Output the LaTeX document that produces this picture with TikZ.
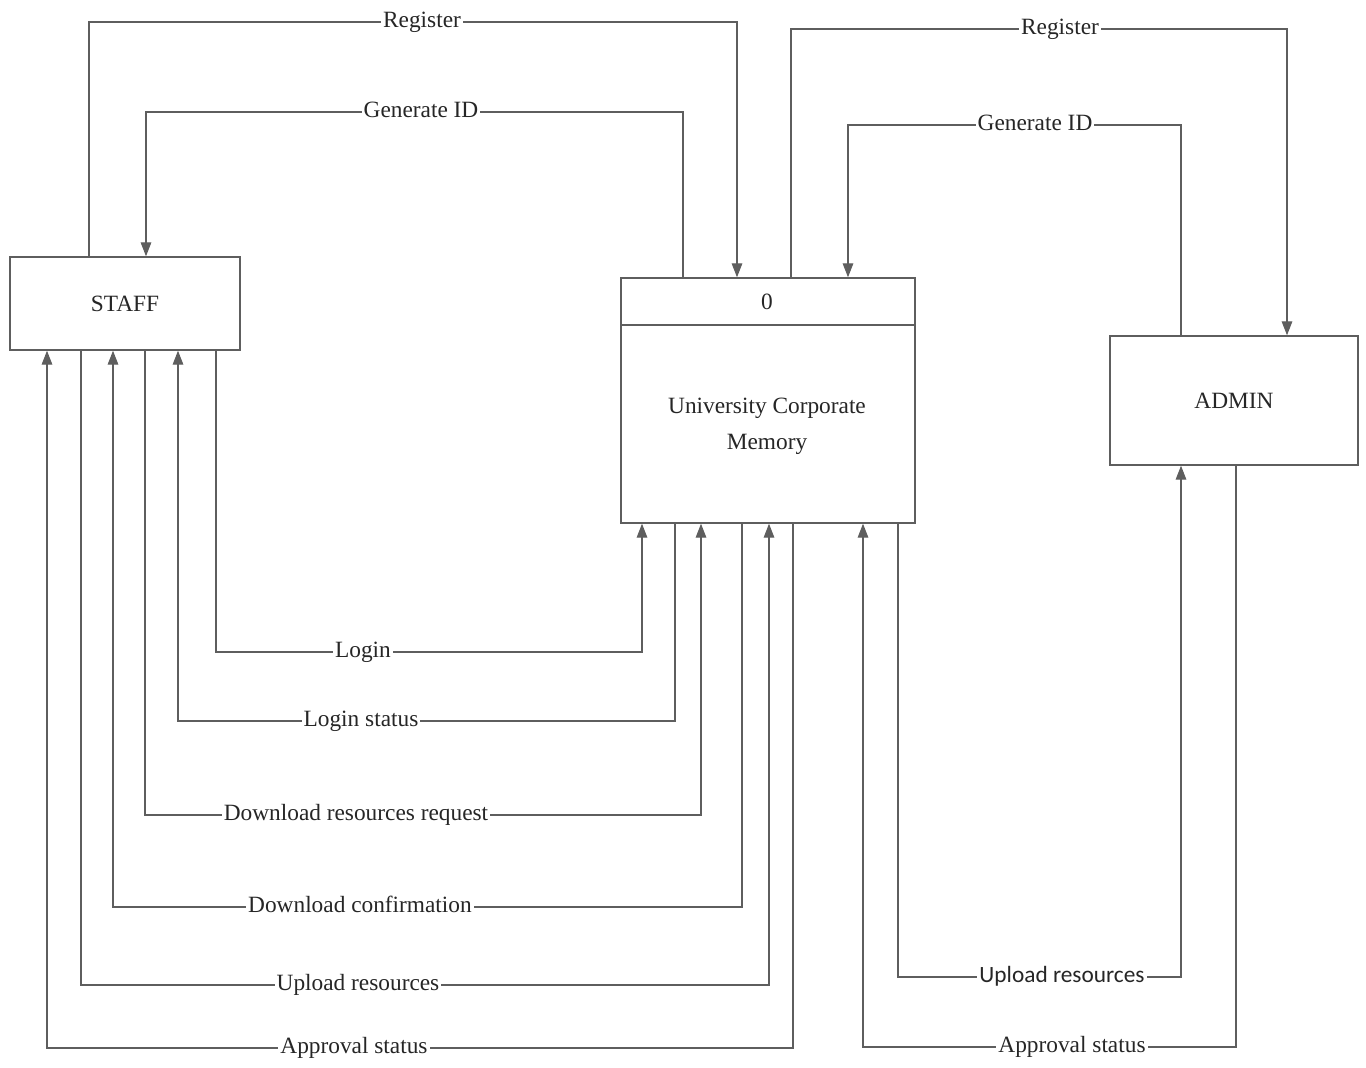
\documentclass[tikz,border=0pt]{standalone}
\usepackage{fontspec}
\setmainfont{Liberation Serif}
\newfontfamily\labelsans{Carlito}
\usetikzlibrary{arrows.meta}
\definecolor{linegray}{HTML}{5E5E5E}
\definecolor{inkgray}{HTML}{262626}
\begin{document}
\begin{tikzpicture}[x=0.75pt,y=-0.75pt,
  font=\fontsize{17.5pt}{27pt}\selectfont, text=inkgray,
  entity/.style={draw=linegray, line width=1.1pt, fill=white, inner sep=0pt},
  flow/.style={draw=linegray, line width=0.8pt, -{Triangle[length=10.5pt,width=8pt]}},
  lbl/.style={fill=white, inner xsep=1.5pt, inner ysep=1pt, text height=0.8em, text depth=0pt}]
\useasboundingbox (0,0) rectangle (1366,1067);

% external entities and the process
\node[entity, minimum width=172.5pt, minimum height=69.75pt] (staff) at (125,303.5) {STAFF};
\node[entity, minimum width=186pt, minimum height=96.75pt] (admin) at (1234,400.5) {ADMIN};
\node[entity, minimum width=220.5pt, minimum height=183.75pt] (ucm) at (768,400.5) {};
\draw[draw=linegray, line width=1.1pt] (ucm.west |- 0,325) coordinate (divl) -- (ucm.east |- 0,325) coordinate (divr);
\node (pid) at (767,302) {0};
\node[align=center] (pname) at (767,426) {University Corporate\\Memory};

% staff <-> process, top
\draw[flow] (staff.north -| 89,0) |- (737,22) -- (ucm.north -| 737,0);
\draw[flow] (ucm.north -| 683,0) |- (146,112) -- (staff.north -| 146,0);
% admin <-> process, top
\draw[flow] (ucm.north -| 791,0) |- (1287,29) -- (admin.north -| 1287,0);
\draw[flow] (admin.north -| 1181,0) |- (848,125) -- (ucm.north -| 848,0);

% staff <-> process, bottom
\draw[flow] (staff.south -| 216,0) |- (642,652) -- (ucm.south -| 642,0);
\draw[flow] (ucm.south -| 675,0) |- (178,721) -- (staff.south -| 178,0);
\draw[flow] (staff.south -| 145,0) |- (701,815) -- (ucm.south -| 701,0);
\draw[flow] (ucm.south -| 742,0) |- (113,907) -- (staff.south -| 113,0);
\draw[flow] (staff.south -| 81,0) |- (769,985) -- (ucm.south -| 769,0);
\draw[flow] (ucm.south -| 793,0) |- (47,1048) -- (staff.south -| 47,0);
% admin <-> process, bottom
\draw[flow] (ucm.south -| 898,0) |- (1181,977) -- (admin.south -| 1181,0);
\draw[flow] (admin.south -| 1236,0) |- (863,1047) -- (ucm.south -| 863,0);

% flow labels
\node[lbl] (l1) at (422,22) {Register};
\node[lbl] (l2) at (421,112) {Generate ID};
\node[lbl] (l3) at (1060,29) {Register};
\node[lbl] (l4) at (1035,125) {Generate ID};
\node[lbl] (l5) at (363,652) {Login};
\node[lbl] (l6) at (361,721) {Login status};
\node[lbl] (l7) at (356,815) {Download resources request};
\node[lbl] (l8) at (360,907) {Download confirmation};
\node[lbl] (l9) at (358,985) {Upload resources};
\node[lbl] (l10) at (354,1048) {Approval status};
\node[lbl, font=\labelsans\fontsize{17.5pt}{27pt}\selectfont] (l11) at (1062,977) {Upload resources};
\node[lbl] (l12) at (1072,1047) {Approval status};
\end{tikzpicture}
\end{document}
